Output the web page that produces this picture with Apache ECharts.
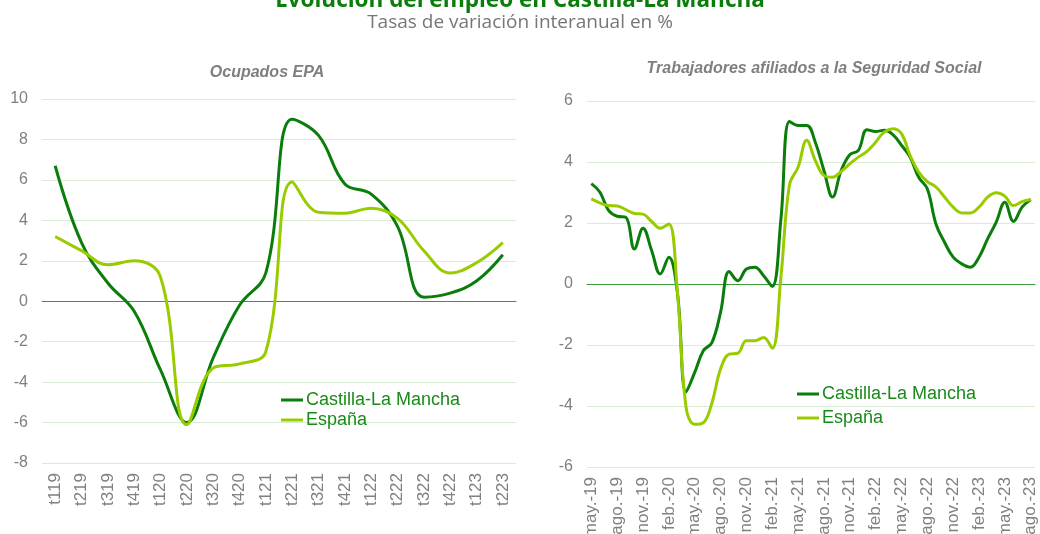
<!DOCTYPE html>
<html>
<head>
<meta charset="utf-8">
<script src="https://cdn.jsdelivr.net/npm/echarts@6/dist/echarts.min.js"></script>
<style>
  html, body { margin: 0; padding: 0; background: #fff; }
  #chart { width: 1040px; height: 534px; }
</style>
</head>
<body>
<div id="chart"></div>
<script>
// Ocupados EPA (trimestral)
const quarters = ['t119', 't219', 't319', 't419', 't120', 't220', 't320', 't420', 't121',
  't221', 't321', 't421', 't122', 't222', 't322', 't422', 't123', 't223']
const epaClm = [6.7, 2.9, 0.9, -0.5, -3.4, -6.0, -2.8, -0.2, 1.4, 9.0, 8.2, 5.8, 5.3, 3.7, 0.2, 0.4, 1.0, 2.3]
const epaEsp = [3.2, 2.5, 1.8, 2.0, 1.2, -6.1, -3.3, -3.1, -2.5, 5.9, 4.4, 4.35, 4.6, 4.1, 2.5, 1.4, 1.9, 2.9]

// Afiliados a la Seguridad Social (mensual)
const months = [
  'may.-19', 'jun.-19', 'jul.-19', 'ago.-19', 'sep.-19', 'oct.-19', 'nov.-19', 'dic.-19',
  'ene.-20', 'feb.-20', 'mar.-20', 'abr.-20', 'may.-20', 'jun.-20', 'jul.-20', 'ago.-20',
  'sep.-20', 'oct.-20', 'nov.-20', 'dic.-20', 'ene.-21', 'feb.-21', 'mar.-21', 'abr.-21',
  'may.-21', 'jun.-21', 'jul.-21', 'ago.-21', 'sep.-21', 'oct.-21', 'nov.-21', 'dic.-21',
  'ene.-22', 'feb.-22', 'mar.-22', 'abr.-22', 'may.-22', 'jun.-22', 'jul.-22', 'ago.-22',
  'sep.-22', 'oct.-22', 'nov.-22', 'dic.-22', 'ene.-23', 'feb.-23', 'mar.-23', 'abr.-23',
  'may.-23', 'jun.-23', 'jul.-23', 'ago.-23'
]
const afiClm = [3.29, 3.01, 2.41, 2.22, 2.19, 1.15, 1.83, 1.10, 0.33, 0.88, -0.3, -3.54, -2.9,
  -2.19, -1.92, -0.93, 0.41, 0.11, 0.49, 0.55, 0.27, -0.08, 2.1, 5.33, 5.2, 5.2, 4.65, 3.72,
  2.85, 3.72, 4.24, 4.38, 5.06, 5.0, 5.04, 4.9, 4.55, 4.16, 3.5, 3.12, 1.97, 1.37, 0.88, 0.66,
  0.55, 0.88, 1.48, 2.03, 2.68, 2.05, 2.52, 2.77]
const afiEsp = [2.79, 2.66, 2.57, 2.56, 2.44, 2.31, 2.29, 2.05, 1.83, 1.97, -0.3, -4.05, -4.6,
  -4.55, -3.9, -2.79, -2.3, -2.27, -1.86, -1.86, -1.75, -2.11, 0.2, 3.25, 3.83, 4.71, 4.05,
  3.56, 3.5, 3.69, 3.94, 4.16, 4.35, 4.65, 4.98, 5.09, 4.93, 4.22, 3.67, 3.36, 3.18, 2.85,
  2.52, 2.33, 2.33, 2.52, 2.85, 2.99, 2.88, 2.57, 2.7, 2.77]

const CLM = '#0b7d0b'
const ESP = '#99cc00'
const labelGray = '#808080'
const gridColor = '#dcebd6'
const zeroColor = '#3a9a3a'

const chart = echarts.init(document.getElementById('chart'))

const yAxisBase = {
  type: 'value',
  interval: 2,
  axisLine: { show: false },
  axisTick: { show: false },
  axisLabel: { color: labelGray, fontSize: 16, fontFamily: 'Liberation Sans', margin: 14 },
  splitLine: { lineStyle: { color: gridColor, width: 1 } }
}

const xAxisBase = {
  type: 'category',
  boundaryGap: true,
  axisTick: { show: false },
  axisLine: { onZero: true, lineStyle: { color: zeroColor, width: 1 } },
  axisLabel: { color: labelGray, fontSize: 17, fontFamily: 'Liberation Sans', rotate: 90, margin: 10 }
}

const legendBase = {
  orient: 'vertical',
  itemWidth: 22,
  itemHeight: 14,
  icon: 'path://M0,6 L22,6 L22,9 L0,9 Z',
  textStyle: { color: '#1a8a1a', fontSize: 18, fontFamily: 'Liberation Sans', padding: [0, 0, 0, -2] },
  data: ['Castilla-La Mancha', 'España']
}

const option = {
  animation: false,
  title: [
    {
      text: 'Evolución del empleo en Castilla-La Mancha',
      left: 'center',
      top: -16,
      textStyle: { color: '#0b7d0b', fontSize: 22.5, fontWeight: 'bold', fontFamily: 'Open Sans' }
    },
    {
      text: 'Tasas de variación interanual en %',
      left: 'center',
      top: 8,
      textStyle: { color: '#767676', fontSize: 19, fontWeight: 'normal', fontFamily: 'Open Sans' }
    },
    {
      text: 'Ocupados EPA',
      left: 262,
      textAlign: 'center',
      top: 60,
      textStyle: { color: '#7f7f7f', fontSize: 16, fontWeight: 'bold', fontStyle: 'italic', fontFamily: 'Liberation Sans' }
    },
    {
      text: 'Trabajadores afiliados a la Seguridad Social',
      left: 809,
      textAlign: 'center',
      top: 56,
      textStyle: { color: '#7f7f7f', fontSize: 16, fontWeight: 'bold', fontStyle: 'italic', fontFamily: 'Liberation Sans' }
    }
  ],
  legend: [
    Object.assign({}, legendBase, { left: 276, top: 386, itemGap: 2 }),
    Object.assign({}, legendBase, { left: 792, top: 380, itemGap: 6 })
  ],
  grid: [
    { left: 42, width: 474, top: 99, height: 364, outerBoundsMode: 'none' },
    { left: 587, width: 448, top: 101, height: 366, outerBoundsMode: 'none' }
  ],
  xAxis: [
    Object.assign({}, xAxisBase, { gridIndex: 0, data: quarters, axisLabel: Object.assign({}, xAxisBase.axisLabel, { interval: 0 }) }),
    Object.assign({}, xAxisBase, { gridIndex: 1, data: months, axisLabel: Object.assign({}, xAxisBase.axisLabel, { interval: 2 }) })
  ],
  yAxis: [
    Object.assign({}, yAxisBase, { gridIndex: 0, min: -8, max: 10 }),
    Object.assign({}, yAxisBase, { gridIndex: 1, min: -6, max: 6 })
  ],
  series: [
    { name: 'Castilla-La Mancha', type: 'line', xAxisIndex: 0, yAxisIndex: 0, data: epaClm,
      smooth: 0.4, symbol: 'none', lineStyle: { color: CLM, width: 3 }, itemStyle: { color: CLM } },
    { name: 'España', type: 'line', xAxisIndex: 0, yAxisIndex: 0, data: epaEsp,
      smooth: 0.4, symbol: 'none', lineStyle: { color: ESP, width: 3 }, itemStyle: { color: ESP } },
    { name: 'Castilla-La Mancha', type: 'line', xAxisIndex: 1, yAxisIndex: 1, data: afiClm,
      smooth: 0.4, symbol: 'none', lineStyle: { color: CLM, width: 3 }, itemStyle: { color: CLM } },
    { name: 'España', type: 'line', xAxisIndex: 1, yAxisIndex: 1, data: afiEsp,
      smooth: 0.4, symbol: 'none', lineStyle: { color: ESP, width: 3 }, itemStyle: { color: ESP } }
  ]
}

chart.setOption(option)
window.addEventListener('resize', () => chart.resize())
</script>
</body>
</html>
